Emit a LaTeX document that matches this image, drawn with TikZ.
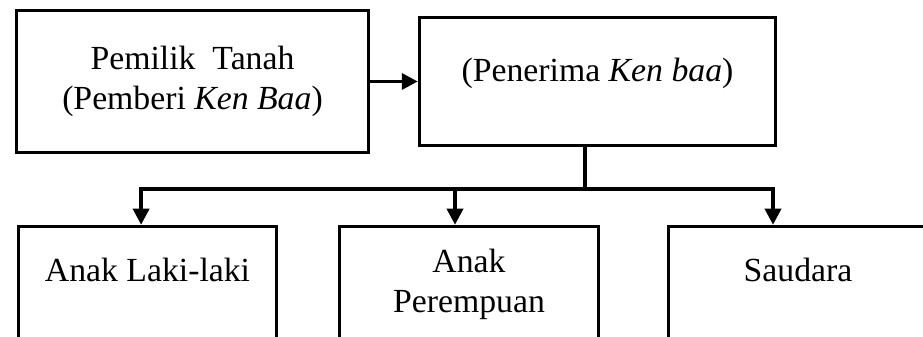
\documentclass[tikz,border=0pt]{standalone}
\usepackage{fontspec}
\setmainfont{Liberation Serif}
\usetikzlibrary{arrows.meta}

\begin{document}
\begin{tikzpicture}[box/.style={draw,line width=2.5pt,align=center,font=\fontsize{24}{29}\selectfont},
    oneline/.style={text height=0.6cm,text depth=0.74cm},
    stem/.style={line width=2.5pt},
    link/.style={line width=2.5pt,-{Triangle[length=0.4cm,width=0.4cm]}}]
        % Rahmen
        \useasboundingbox (0, 0) rectangle (23.075, 8.4);
        \clip (0, 0) rectangle (23.075, 8.4);

        % Pemilik / Penerima
        \node[box, minimum width=8.8cm, minimum height=3.55cm] (pemilik) at (4.8125, 6.3625) {Pemilik\ \ Tanah\\(Pemberi \textit{Ken Baa})};
        \node[box, text height=0.6cm, text depth=0.6cm, minimum width=8.9cm, minimum height=3.2cm] (penerima) at (14.9375, 6.3625) {(Penerima \textit{Ken baa})};
        \draw[link] (pemilik) -- (penerima);

        % Ahli waris
        \node[box, oneline, minimum width=6.45cm, minimum height=2.9cm] (lakilaki) at (3.6875, 1.2875) {Anak Laki-laki};
        \node[box, minimum width=6.475cm, minimum height=2.9cm] (perempuan) at (11.725, 1.2875) {Anak\\Perempuan};
        \node[box, oneline, minimum width=6.475cm, minimum height=2.9cm] (saudara) at (19.95, 1.2875) {Saudara};

        % Cabang
        \coordinate (fork) at (14.625, 3.675);
        \draw[stem] (penerima.south -| fork) -- (fork);
        \draw[link] (fork) -| ([xshift=-0.16cm]lakilaki.north);
        \draw[link] (fork) -| ([xshift=-0.35cm]perempuan.north);
        \draw[link] (fork) -| ([xshift=-0.625cm]saudara.north);
    \end{tikzpicture}
\end{document}
